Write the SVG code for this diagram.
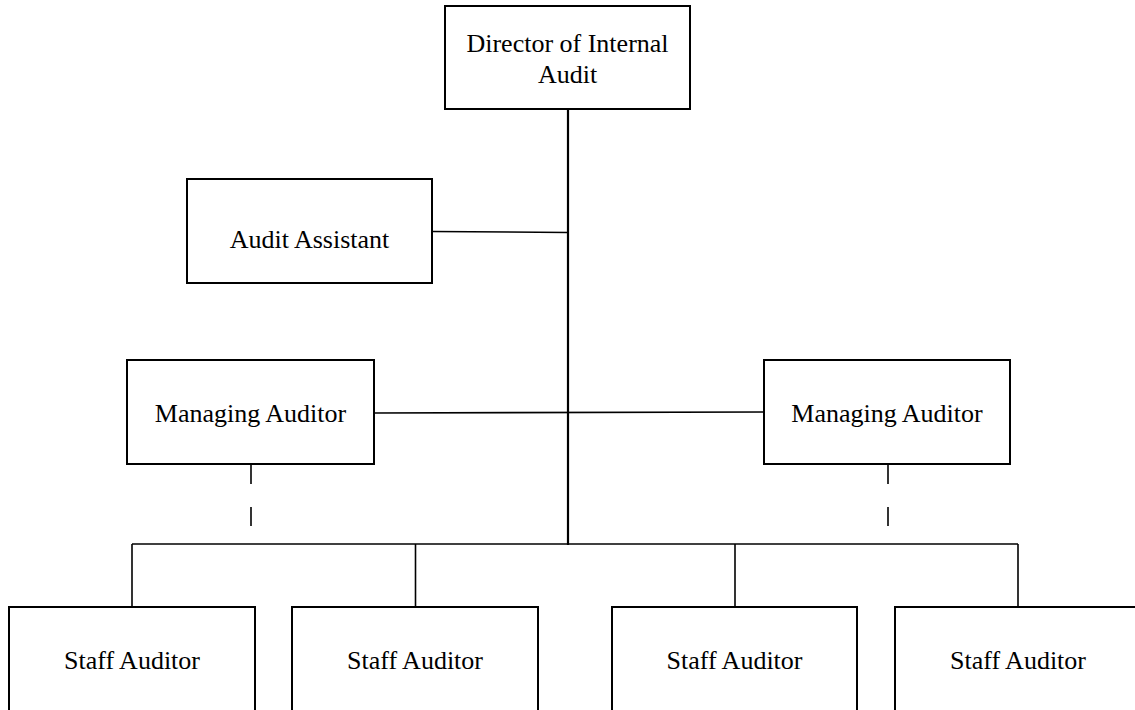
<svg xmlns="http://www.w3.org/2000/svg" width="1135" height="710" viewBox="0 0 1135 710">
<style>
.box{fill:#fff;stroke:#000;stroke-width:2}
.lbl{font-family:"Liberation Serif","Times New Roman",serif;font-size:26px;fill:#000;text-anchor:middle}
.ln{stroke:#000;stroke-width:1.6;fill:none}
.trunk{stroke:#000;stroke-width:2.2;fill:none}
</style>
<rect width="1135" height="710" fill="#fff"/>
<g id="connectors">
<line class="trunk" x1="568" y1="109" x2="568" y2="545"/>
<line class="ln" x1="432" y1="231.5" x2="568" y2="232.5"/>
<line class="ln" x1="374" y1="413" x2="764" y2="412"/>
<line class="ln" x1="132" y1="544" x2="1018" y2="544"/>
<line class="ln" x1="132" y1="544" x2="132" y2="607"/>
<line class="ln" x1="415.5" y1="544" x2="415.5" y2="607"/>
<line class="ln" x1="735" y1="544" x2="735" y2="607"/>
<line class="ln" x1="1018" y1="544" x2="1018" y2="607"/>
<line class="ln" x1="251" y1="464" x2="251" y2="484"/>
<line class="ln" x1="251" y1="507" x2="251" y2="526"/>
<line class="ln" x1="888" y1="464" x2="888" y2="484"/>
<line class="ln" x1="888" y1="507" x2="888" y2="526"/>
</g>
<g id="director">
<rect class="box" x="445" y="6" width="245" height="103"/>
<text class="lbl" x="567.5" y="52">Director of Internal</text>
<text class="lbl" x="567.5" y="82.5">Audit</text>
</g>
<g id="audit-assistant">
<rect class="box" x="187" y="179" width="245" height="104"/>
<text class="lbl" x="309.5" y="248">Audit Assistant</text>
</g>
<g id="managing-auditor-left">
<rect class="box" x="127" y="360" width="247" height="104"/>
<text class="lbl" x="250.5" y="421.5">Managing Auditor</text>
</g>
<g id="managing-auditor-right">
<rect class="box" x="764" y="360" width="246" height="104"/>
<text class="lbl" x="887" y="421.5">Managing Auditor</text>
</g>
<g id="staff-auditor-1">
<rect class="box" x="9" y="607" width="246" height="115"/>
<text class="lbl" x="132" y="669">Staff Auditor</text>
</g>
<g id="staff-auditor-2">
<rect class="box" x="292" y="607" width="246" height="115"/>
<text class="lbl" x="415" y="669">Staff Auditor</text>
</g>
<g id="staff-auditor-3">
<rect class="box" x="612" y="607" width="245" height="115"/>
<text class="lbl" x="734.5" y="669">Staff Auditor</text>
</g>
<g id="staff-auditor-4">
<rect class="box" x="895" y="607" width="246" height="115"/>
<text class="lbl" x="1018" y="669">Staff Auditor</text>
</g>
</svg>
